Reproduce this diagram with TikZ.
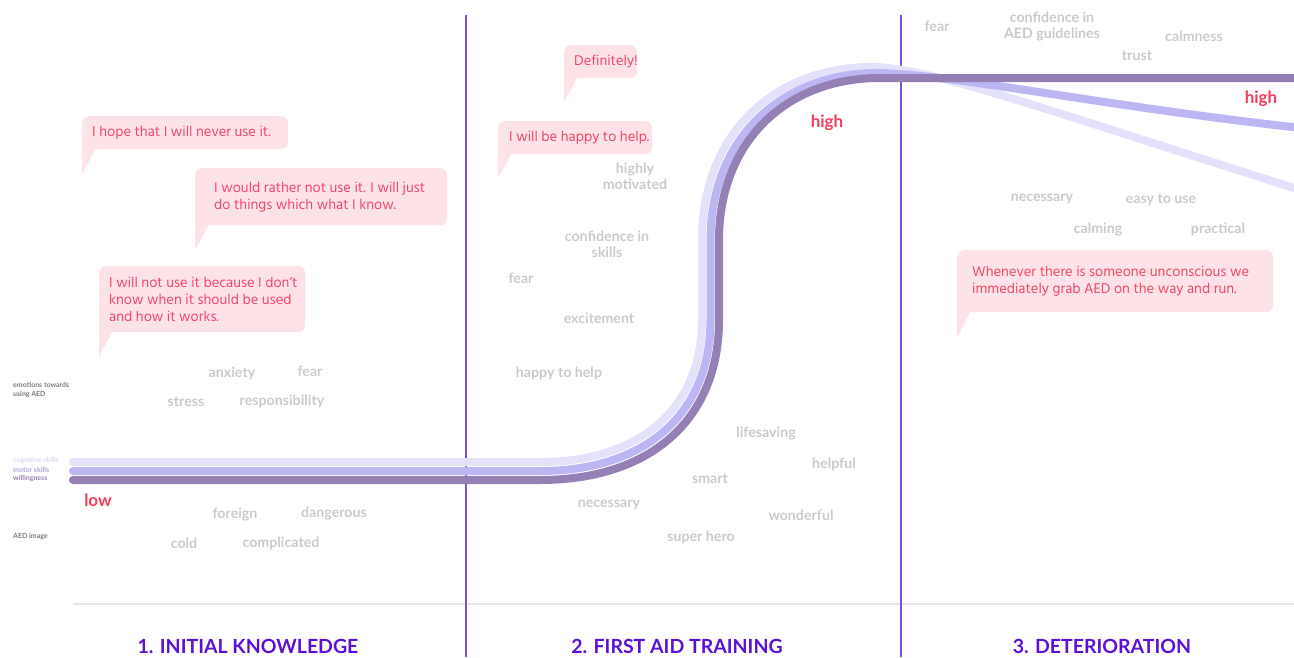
\documentclass[tikz,border=0pt]{standalone}
\usepackage{fontspec}
\setmainfont{Hind Madurai}
\newfontfamily\wordfont{Lato}
\usetikzlibrary{calc}

\definecolor{quoteRed}{HTML}{F2486A}
\definecolor{bubblePink}{HTML}{FDE3E7}
\definecolor{wordGray}{HTML}{CBCBCB}
\definecolor{labelGray}{HTML}{7A7A7A}
\definecolor{cogCol}{HTML}{E4E1FB}
\definecolor{motCol}{HTML}{BCB6F2}
\definecolor{willCol}{HTML}{9480B4}
\definecolor{divider}{HTML}{7A50DC}
\definecolor{phaseCol}{HTML}{5B10D5}
\definecolor{levelRed}{HTML}{F53C5C}
\definecolor{baseGray}{HTML}{E6E6E6}

\tikzset{
  word/.style={font=\wordfont\bfseries\fontsize{14.2}{16}\selectfont, text=wordGray, inner sep=0pt, align=center},
  quote/.style={font=\fontsize{14.5}{17}\selectfont, text=quoteRed, inner sep=0pt, align=left, anchor=west},
  bubble/.style={fill=bubblePink, rounded corners=7pt, inner sep=0pt, draw=none},
  level/.style={font=\wordfont\bfseries\fontsize{17}{18}\selectfont, text=levelRed, inner sep=0pt},
  phase/.style={font=\wordfont\bfseries\fontsize{19.5}{22}\selectfont, text=phaseCol, inner sep=0pt, anchor=base},
  axislabel/.style={font=\wordfont\bfseries\fontsize{7}{9}\selectfont, anchor=west, align=left, inner sep=0pt},
  band/.style={line width=8pt, line cap=round},
  divline/.style={draw=divider, line width=1.2pt},
}

% bubble with a tail hanging from its lower left corner
\newcommand{\speechbox}[6]{% name, x1, y1, x2, y2, tail length
  \node[bubble, anchor=north west, minimum width=#4-#2, minimum height=#5-#3] (#1) at (#2,#3) {};
  \fill[bubblePink] (#1.south west) ++(0,-8) -- ++(0,8+#6) -- ++(13,-#6) -- ++(0,-8) -- cycle;
}

\begin{document}
\begin{tikzpicture}[x=1pt,y=-1pt]
\useasboundingbox (0,0) rectangle (1294,657);

% baseline and phase dividers
\draw[baseGray, line width=1.5pt] (73,604) -- (1294,604);
\draw[divline] (466,15) -- (466,657);
\draw[divline] (901,15) -- (901,657);

% progress bands
\begin{scope}
\clip (0,0) rectangle (1294,657);
\draw[band, cogCol] (73,462) -- (540,462) .. controls (640,462) and (702,408) .. (702,320) -- (702,240)
  .. controls (702,132) and (776,67) .. (872,67) .. controls (930,67.5) and (1040,108) .. (1310,193);
\draw[band, motCol] (73,471) -- (540,471) .. controls (645,471) and (710.5,414) .. (710.5,320) -- (710.5,240)
  .. controls (710.5,138) and (782,73) .. (878,73) .. controls (960,75) and (1100,106) .. (1310,129);
\draw[band, willCol] (73,480) -- (540,480) .. controls (650,480) and (719,420) .. (719,320) -- (719,240)
  .. controls (719,143) and (785,78) .. (880,78) -- (1310,78);
\end{scope}

% row labels
\node[axislabel, text=labelGray] (lemo) at (13,390.5) {emotions towards\\using AED};
\node[axislabel, text=cogCol!90!gray] (lcog) at (13,461) {cognitive skills};
\node[axislabel, text=motCol!90!black] (lmot) at (13,470) {motor skills};
\node[axislabel, text=willCol] (lwil) at (13,479) {willingness};
\node[axislabel, text=labelGray] (limg) at (13,537) {AED image};

% levels
\node[level] (low) at (98,500) {low};
\node[level] (high1) at (827,123) {high};
\node[level] (high2) at (1261,99) {high};

% speech bubbles
\speechbox{b1}{82}{116}{288}{149}{25}
\node[quote] (q1) at ([xshift=10pt]b1.west) {I hope that I will never use it.};
\speechbox{b2}{195}{168}{447}{225}{25}
\node[quote] (q2) at ([xshift=19pt]b2.west) {I would rather not use it. I will just\\do things which what I know.};
\speechbox{b3}{99}{266}{305}{332}{24}
\node[quote] (q3) at ([xshift=10pt]b3.west) {I will not use it because I don’t\\know when it should be used\\and how it works.};
\speechbox{b4}{564}{45}{637}{78}{24}
\node[quote] (q4) at ([xshift=10pt]b4.west) {Definitely!};
\speechbox{b5}{498}{121}{652}{154}{24}
\node[quote] (q5) at ([xshift=11pt]b5.west) {I will be happy to help.};
\speechbox{b6}{957}{250}{1273}{312}{26}
\node[quote] (q6) at ([xshift=15pt]b6.west) {Whenever there is someone unconscious we\\immediately grab AED on the way and run.};

% phase 1 words
\node[word] (w1) at (232,373) {anxiety};
\node[word] (w2) at (310,371) {fear};
\node[word] (w3) at (186,402) {stress};
\node[word] (w4) at (282,401) {responsibility};
\node[word] (w5) at (235,515) {foreign};
\node[word] (w6) at (334,513) {dangerous};
\node[word] (w7) at (184,543) {cold};
\node[word] (w8) at (281,543) {complicated};

% phase 2 words
\node[word] (w9) at (635,176) {highly\\motivated};
\node[word] (w10) at (607,244) {confidence in\\skills};
\node[word] (w11) at (521,278) {fear};
\node[word] (w12) at (599,318) {excitement};
\node[word] (w13) at (559,373) {happy to help};
\node[word] (w14) at (766,433) {lifesaving};
\node[word] (w15) at (834,464) {helpful};
\node[word] (w16) at (710,479) {smart};
\node[word] (w17) at (609,505) {necessary};
\node[word] (w18) at (801,515) {wonderful};
\node[word] (w19) at (701,537) {super hero};

% phase 3 words
\node[word] (w20) at (937,26) {fear};
\node[word] (w21) at (1052,26.5) {confidence in\\AED guidelines};
\node[word] (w22) at (1194,36) {calmness};
\node[word] (w23) at (1137,56) {trust};
\node[word] (w24) at (1042,199) {necessary};
\node[word] (w25) at (1161,200) {easy to use};
\node[word] (w26) at (1098,229) {calming};
\node[word] (w27) at (1218,229) {practical};

% phase titles
\node[phase] (p1) at (248,653) {1. INITIAL KNOWLEDGE};
\node[phase] (p2) at (677,653) {2. FIRST AID TRAINING};
\node[phase] (p3) at (1102,653) {3. DETERIORATION};
\end{tikzpicture}
\end{document}
